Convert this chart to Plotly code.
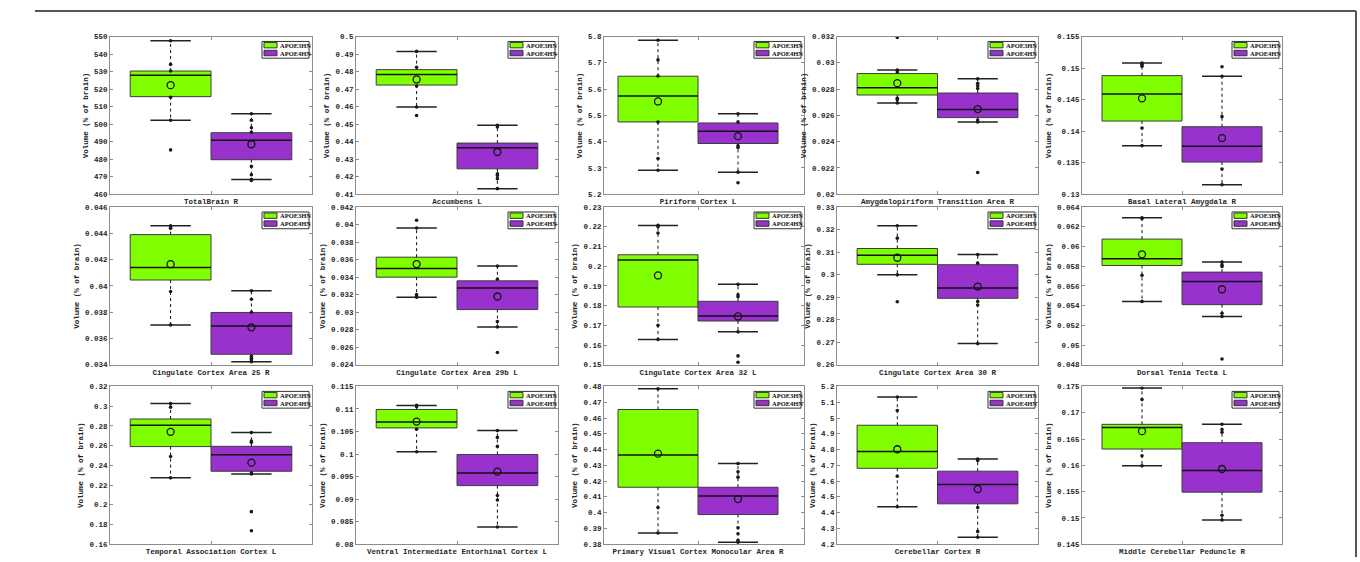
import numpy as np
import plotly.graph_objects as go

# ---------------- data ----------------
regions = [
    "TotalBrain R", "Accumbens L", "Piriform Cortex L",
    "Amygdalopiriform Transition Area R", "Basal Lateral Amygdala R",
    "Cingulate Cortex Area 25 R", "Cingulate Cortex Area 29b L",
    "Cingulate Cortex Area 32 L", "Cingulate Cortex Area 30 R",
    "Dorsal Tenia Tecta L",
    "Temporal Association Cortex L", "Ventral Intermediate Entorhinal Cortex L",
    "Primary Visual Cortex Monocular Area R", "Cerebellar Cortex R",
    "Middle Cerebellar Peduncle R",
]
groups = ["APOE3HN", "APOE4HN"]
y_label = "Volume (% of brain)"

y_min = [460, 0.41, 5.2, 0.02, 0.13, 0.034, 0.024, 0.15, 0.26, 0.048, 0.16, 0.08, 0.38, 4.2, 0.145]
y_max = [550, 0.5, 5.8, 0.032, 0.155, 0.046, 0.042, 0.23, 0.33, 0.064, 0.32, 0.115, 0.48, 5.2, 0.175]
y_step = [10, 0.01, 0.1, 0.002, 0.005, 0.002, 0.002, 0.01, 0.01, 0.002, 0.02, 0.005, 0.01, 0.1, 0.005]

# APOE3HN
e3_q1 = [515.7, 0.4723, 5.475, 0.02755, 0.1416, 0.04045, 0.0340, 0.1793, 0.3046, 0.05807, 0.259, 0.1058, 0.4161, 4.681, 0.1631]
e3_med = [527.9, 0.4783, 5.574, 0.0281, 0.1459, 0.0414, 0.0350, 0.2032, 0.3086, 0.05875, 0.2807, 0.1071, 0.4366, 4.7875, 0.1672]
e3_q3 = [530.3, 0.4811, 5.649, 0.02918, 0.1488, 0.0439, 0.03628, 0.2058, 0.3116, 0.06075, 0.287, 0.1099, 0.4654, 4.954, 0.1678]
e3_lo = [502.2, 0.4598, 5.291, 0.02695, 0.1377, 0.03703, 0.03172, 0.1628, 0.2999, 0.05443, 0.2273, 0.1005, 0.3871, 4.4375, 0.1599]
e3_hi = [547.6, 0.4915, 5.786, 0.02945, 0.1508, 0.04458, 0.03961, 0.2207, 0.3217, 0.06292, 0.3027, 0.1108, 0.4785, 5.133, 0.1747]
e3_mean = [522.25, 0.4755, 5.553, 0.02845, 0.1452, 0.04165, 0.03549, 0.1953, 0.3075, 0.0592, 0.274, 0.1072, 0.4374, 4.802, 0.1665]
e3_pts = [
    [547.6, 534.1, 530.3, 515.3, 502.2, 485.3],
    [0.4915, 0.4824, 0.4717, 0.4598, 0.4549],
    [5.786, 5.711, 5.65, 5.475, 5.336, 5.291],
    [0.03193, 0.02945, 0.0293, 0.0273, 0.0272, 0.02695],
    [0.1508, 0.1506, 0.1503, 0.1405, 0.1377],
    [0.04458, 0.04448, 0.04438, 0.03958, 0.03703],
    [0.0405, 0.03961, 0.032, 0.0318, 0.03172],
    [0.2207, 0.22, 0.2168, 0.17, 0.1628],
    [0.3217, 0.3162, 0.2999, 0.288],
    [0.06292, 0.06283, 0.05707, 0.05443],
    [0.3027, 0.299, 0.249, 0.2273],
    [0.1108, 0.1105, 0.1055, 0.1005],
    [0.4785, 0.4032, 0.3871],
    [5.133, 5.048, 4.631, 4.4375],
    [0.1747, 0.1725, 0.1618, 0.1599],
]

# APOE4HN
e4_q1 = [479.7, 0.4245, 5.393, 0.02583, 0.1351, 0.0348, 0.0303, 0.1722, 0.2895, 0.0541, 0.234, 0.0930, 0.3988, 4.456, 0.1549]
e4_med = [490.75, 0.4366, 5.44, 0.02645, 0.1376, 0.03695, 0.03276, 0.1747, 0.2941, 0.05646, 0.2507, 0.0958, 0.4106, 4.579, 0.159]
e4_q3 = [495.1, 0.4392, 5.471, 0.0277, 0.1407, 0.03798, 0.03358, 0.1822, 0.3044, 0.0574, 0.2593, 0.0999, 0.4161, 4.663, 0.1643]
e4_lo = [468.4, 0.4132, 5.284, 0.0255, 0.1315, 0.03423, 0.02832, 0.1667, 0.2694, 0.0529, 0.2313, 0.0838, 0.3812, 4.244, 0.1496]
e4_hi = [505.9, 0.4493, 5.506, 0.02878, 0.1487, 0.03963, 0.03527, 0.1908, 0.3089, 0.05843, 0.2733, 0.1052, 0.4311, 4.74, 0.1678]
e4_mean = [488.5, 0.4341, 5.421, 0.02648, 0.1389, 0.03685, 0.03179, 0.1745, 0.2947, 0.05566, 0.2427, 0.0961, 0.4086, 4.55, 0.1593]
e4_pts = [
    [505.9, 502.2, 497.9, 495.4, 475.9, 471.1, 468.4, 467.9],
    [0.4493, 0.4484, 0.4217, 0.4207, 0.4189, 0.4132],
    [5.506, 5.475, 5.384, 5.378, 5.284, 5.244],
    [0.02878, 0.02845, 0.02825, 0.02805, 0.02565, 0.0255, 0.02165],
    [0.1502, 0.1487, 0.1423, 0.134, 0.1315],
    [0.03963, 0.03898, 0.038, 0.03465, 0.0345, 0.03438, 0.03423],
    [0.03527, 0.03377, 0.02893, 0.02832, 0.0254],
    [0.1908, 0.1855, 0.1845, 0.1667, 0.1545, 0.1513],
    [0.3089, 0.3051, 0.2881, 0.2865, 0.2694],
    [0.05843, 0.05813, 0.05797, 0.05323, 0.0529, 0.04859],
    [0.2733, 0.2647, 0.2633, 0.2323, 0.2313, 0.193, 0.1737],
    [0.1052, 0.1037, 0.1017, 0.0908, 0.0898, 0.0838],
    [0.4311, 0.4259, 0.4225, 0.3904, 0.3866, 0.3825, 0.3812],
    [4.74, 4.731, 4.433, 4.281, 4.244],
    [0.1678, 0.1668, 0.1663, 0.1505, 0.1496],
]

# ---------------- layout / style settings ----------------
W, H = 1360, 562
col_px = [(110, 312), (356, 558), (604, 804), (837, 1038), (1082, 1282)]
row_px = [(34, 194), (207, 367), (389, 549)]
col_shift = [0, 0, -0.03, 0, 0]
GREEN = "#80FF00"
PURPLE = "#9932CC"
colors = [GREEN, PURPLE]
EDGE = "#3c3c3c"
FRAME = "#8c8c8c"
TXT = "#262626"
MONO = "Liberation Mono, Courier New, monospace"
SERIF = "Liberation Serif, Times New Roman, serif"
box_w = 0.4

stats = [
    (e3_q1, e3_med, e3_q3, e3_lo, e3_hi, e3_mean, e3_pts),
    (e4_q1, e4_med, e4_q3, e4_lo, e4_hi, e4_mean, e4_pts),
]

fig = go.Figure()
layout = {}
shapes = []
annotations = []


def px_x(p):
    return p / W


def px_y(p):
    return 1 - p / H


for i in range(15):
    r, c = divmod(i, 5)
    suffix = "" if i == 0 else str(i + 1)
    xa, ya = "x" + suffix, "y" + suffix
    L, R = col_px[c]
    T, B = row_px[r]
    n_ticks = int(round((y_max[i] - y_min[i]) / y_step[i]))
    tv = [round(y_min[i] + k * y_step[i], 6) for k in range(n_ticks + 1)]
    tt = ["<b>%g</b>" % v for v in tv]
    centers = [0.3 + col_shift[c], 0.7 + col_shift[c]]

    layout["xaxis" + suffix] = dict(
        domain=[px_x(L), px_x(R)], range=[0, 1], anchor=ya,
        tickvals=[0.5 + col_shift[c]], ticktext=["<b>" + regions[i] + "</b>"],
        ticks="inside", ticklen=3, tickcolor=FRAME, showline=True,
        linecolor=FRAME, linewidth=1, mirror="ticks", showgrid=False,
        zeroline=False, fixedrange=True,
        tickfont=dict(family=MONO, size=7.5, color=TXT),
    )
    layout["yaxis" + suffix] = dict(
        domain=[px_y(B), px_y(T)], range=[y_min[i], y_max[i]], anchor=xa,
        tickvals=tv, ticktext=tt,
        ticks="inside", ticklen=3, tickcolor=FRAME, showline=True,
        linecolor=FRAME, linewidth=1, mirror="ticks", showgrid=False,
        zeroline=False, fixedrange=True,
        tickfont=dict(family=MONO, size=7.5, color=TXT),
        title=dict(text="<b>" + y_label + "</b>", standoff=4,
                   font=dict(family=MONO, size=7.5, color=TXT)),
    )

    for g in range(2):
        q1, med, q3, lo, hi, mn, pts = (s[i] for s in stats[g])
        xc = centers[g]
        # box
        fig.add_trace(go.Bar(
            x=[xc], y=[q3 - q1], base=[q1], width=[box_w],
            marker=dict(color=colors[g], line=dict(color=EDGE, width=1)),
            xaxis=xa, yaxis=ya, showlegend=False, hoverinfo="skip"))
        # dotted whiskers
        fig.add_trace(go.Scatter(
            x=[xc, xc, None, xc, xc], y=[q3, hi, None, q1, lo], mode="lines",
            line=dict(color="#111111", width=1, dash="dot"),
            xaxis=xa, yaxis=ya, showlegend=False, hoverinfo="skip"))
        # caps
        fig.add_trace(go.Scatter(
            x=[xc - box_w / 4, xc + box_w / 4, None, xc - box_w / 4, xc + box_w / 4],
            y=[hi, hi, None, lo, lo], mode="lines",
            line=dict(color="#222222", width=1.5),
            xaxis=xa, yaxis=ya, showlegend=False, hoverinfo="skip"))
        # median
        fig.add_trace(go.Scatter(
            x=[xc - box_w / 2, xc + box_w / 2], y=[med, med], mode="lines",
            line=dict(color="#111111", width=1.5),
            xaxis=xa, yaxis=ya, showlegend=False, hoverinfo="skip"))
        # individual points
        fig.add_trace(go.Scatter(
            x=[xc] * len(pts), y=pts, mode="markers",
            marker=dict(color="#1a1a1a", size=3.6),
            xaxis=xa, yaxis=ya, showlegend=False, hoverinfo="skip"))
        # mean
        fig.add_trace(go.Scatter(
            x=[xc], y=[mn], mode="markers",
            marker=dict(symbol="circle-open", size=7, color="#111111",
                        line=dict(width=1.3)),
            xaxis=xa, yaxis=ya, showlegend=False, hoverinfo="skip"))

    # legend box (drawn in pixel units relative to the panel)
    shapes.append(dict(type="rect", xref="paper", yref="paper",
                       x0=px_x(R - 50), x1=px_x(R - 3), y0=px_y(T + 22), y1=px_y(T + 5),
                       fillcolor="white", line=dict(color="#333333", width=1), layer="above"))
    for g in range(2):
        yt = T + 6 + g * 8
        shapes.append(dict(type="rect", xref="paper", yref="paper",
                           x0=px_x(R - 48), x1=px_x(R - 35), y0=px_y(yt + 5.5), y1=px_y(yt),
                           fillcolor=colors[g], line=dict(color="#333333", width=1), layer="above"))
        annotations.append(dict(xref="paper", yref="paper", x=px_x(R - 34), y=px_y(yt + 2.8),
                                text="<b>" + groups[g] + "</b>", showarrow=False,
                                xanchor="left", yanchor="middle",
                                font=dict(family=SERIF, size=6.5, color="#111111")))

# outer figure frame (top and right edges)
shapes.append(dict(type="line", xref="paper", yref="paper",
                   x0=px_x(35), x1=px_x(1356), y0=px_y(8), y1=px_y(8),
                   line=dict(color="#555555", width=2)))
shapes.append(dict(type="line", xref="paper", yref="paper",
                   x0=px_x(1356), x1=px_x(1356), y0=px_y(8), y1=0,
                   line=dict(color="#555555", width=2)))

fig.update_layout(
    width=W, height=H, margin=dict(l=0, r=0, t=0, b=0),
    paper_bgcolor="white", plot_bgcolor="white",
    barmode="overlay", showlegend=False, hovermode=False,
    shapes=shapes, annotations=annotations,
    **layout,
)

fig.write_html(
    "out.html",
    config={"displayModeBar": False, "staticPlot": True},
    post_script="document.body.style.margin='0';document.body.style.overflow='hidden';",
)
